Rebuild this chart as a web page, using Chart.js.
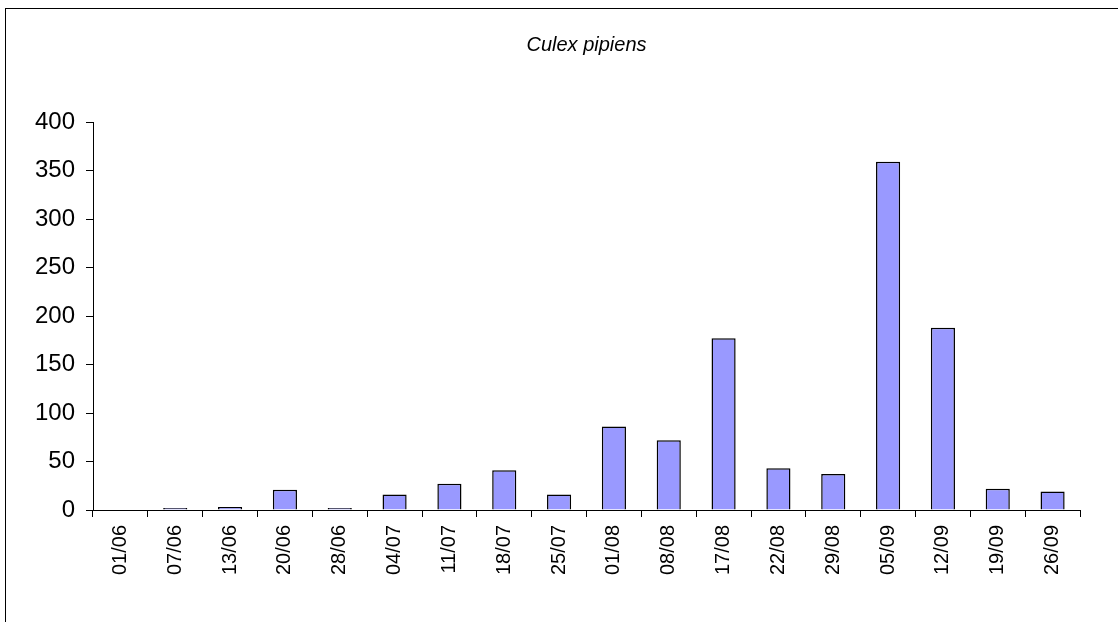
<!DOCTYPE html>
<html>
<head>
<meta charset="utf-8">
<script src="https://cdn.jsdelivr.net/npm/chart.js@4/dist/chart.umd.min.js"></script>
<style>
  body { margin: 0; background: #fff; }
  #myChart { display: block; }
</style>
</head>
<body>
<canvas id="myChart" width="1118" height="622"></canvas>
<script>
var dates = ["01/06", "07/06", "13/06", "20/06", "28/06", "04/07", "11/07", "18/07", "25/07",
             "01/08", "08/08", "17/08", "22/08", "29/08", "05/09", "12/09", "19/09", "26/09"];
var counts = [0, 2, 3, 21, 2, 16, 27, 41, 16, 86, 72, 177, 43, 37, 359, 188, 22, 19];
var yTicks = [0, 50, 100, 150, 200, 250, 300, 350, 400];

// frame round the whole chart (left and top edge visible)
var framePlugin = {
  id: "frame",
  beforeDraw: function (chart) {
    var ctx = chart.ctx;
    ctx.save();
    ctx.fillStyle = "#fff";
    ctx.fillRect(0, 0, chart.width, chart.height);
    ctx.strokeStyle = "#000";
    ctx.lineWidth = 1;
    ctx.strokeRect(5.5, 8.5, 1300, 1000);
    ctx.restore();
  }
};

var c = new Chart("myChart", {
  type: "bar",
  data: {
    labels: dates,
    datasets: [{
      data: counts,
      backgroundColor: "#9999FF",
      borderColor: "#000",
      borderWidth: 1.5,
      categoryPercentage: 1,
      barPercentage: 0.44
    }]
  },
  options: {
    responsive: false,
    animation: false,
    layout: { padding: { left: 0, right: 38, top: 0, bottom: 0 } },
    plugins: {
      legend: { display: false },
      tooltip: { enabled: false },
      title: {
        display: true,
        fullSize: false,
        text: "Culex pipiens",
        color: "#000",
        font: { family: "Liberation Sans", size: 20, style: "italic", weight: "normal", lineHeight: 1.2 },
        padding: { top: 33, bottom: 65 }
      }
    },
    scales: {
      x: {
        afterFit: function (s) { s.height = 112; },
        grid: { display: true, offset: true, drawOnChartArea: false, drawTicks: true, tickLength: 7, color: "#000" },
        border: { display: true, color: "#000", width: 1 },
        ticks: {
          color: "#000",
          minRotation: 90,
          maxRotation: 90,
          autoSkip: false,
          padding: 8,
          font: { family: "Liberation Sans", size: 20 }
        }
      },
      y: {
        min: 0,
        max: 400,
        afterFit: function (s) { s.width = 93; },
        afterBuildTicks: function (s) { s.ticks = yTicks.map(function (v) { return { value: v }; }); },
        grid: { display: true, drawOnChartArea: false, drawTicks: true, tickLength: 7, color: "#000" },
        border: { display: true, color: "#000", width: 1 },
        ticks: {
          color: "#000",
          padding: 11,
          font: { family: "Liberation Sans", size: 24 }
        }
      }
    }
  },
  plugins: [framePlugin]
});
</script>
</body>
</html>
